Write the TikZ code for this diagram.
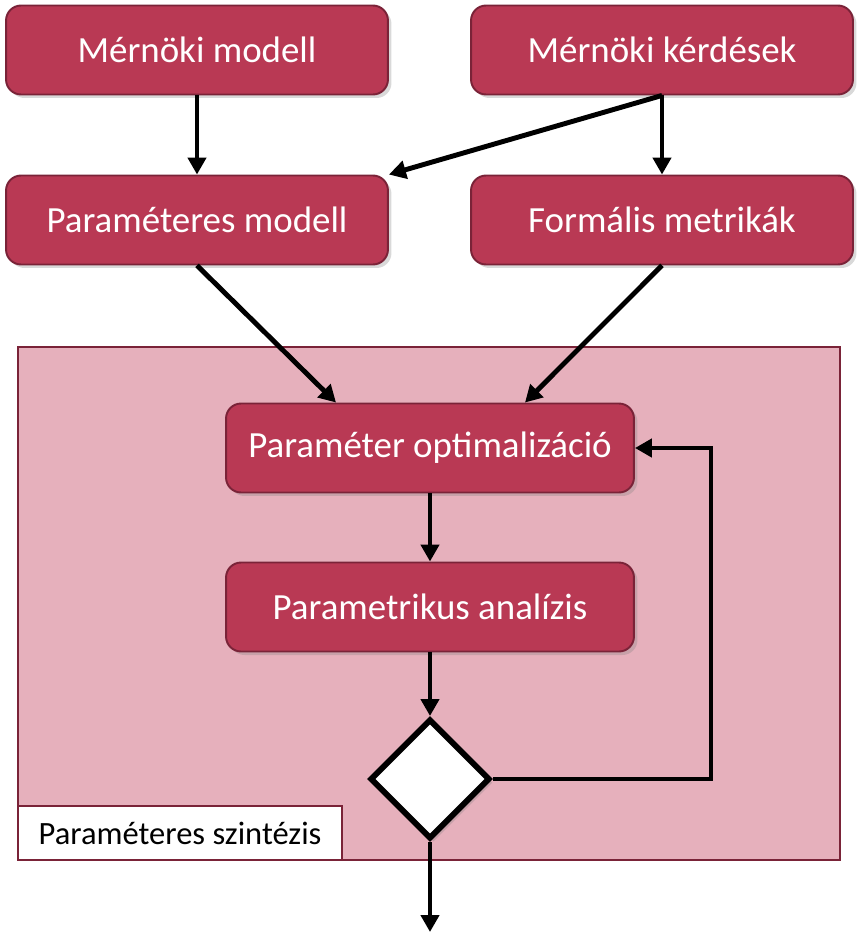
\documentclass[tikz,border=0pt]{standalone}
\usepackage{fontspec}
\setmainfont{Carlito}
\usepackage{tikz}
\usetikzlibrary{arrows.meta,shapes.geometric,shadows,positioning}

\definecolor{boxred}{RGB}{185,57,84}
\definecolor{boxedge}{RGB}{122,35,56}
\definecolor{regionpink}{RGB}{230,176,188}

\tikzset{
  stepbox/.style={draw=boxedge,line width=1.1pt,fill=boxred,rounded corners=0.3cm,
    minimum width=7.64cm,minimum height=1.78cm,text=white,font=\fontsize{21}{25}\selectfont,
    drop shadow={shadow xshift=0.07cm,shadow yshift=-0.07cm,opacity=0.3}},
  region/.style={draw=boxedge,line width=0.8pt,fill=regionpink,minimum width=16.44cm,minimum height=10.26cm},
  tagbox/.style={draw=boxedge,line width=0.8pt,fill=white,minimum width=6.48cm,minimum height=1.08cm,
    font=\fontsize{18.5}{22}\selectfont,inner sep=0pt},
  decision/.style={diamond,draw=black,line width=3.4pt,fill=white,minimum size=2.4cm,inner sep=0pt,
    drop shadow={shadow xshift=0.07cm,shadow yshift=-0.07cm,opacity=0.3}},
  flow/.style={line width=2.8pt,-{Triangle[length=0.34cm,width=0.36cm]}}
}

\begin{document}
\begin{tikzpicture}[x=0.02cm,y=-0.02cm]
  \useasboundingbox (0,0) rectangle (868,951);
  % outer frame
  \node[region] (synth) at (429,603.5) {};
  \node[tagbox,anchor=south west] (tag) at (synth.south west) {Paraméteres szintézis};
  % inputs
  \node[stepbox] (mm) at (197,50) {Mérnöki modell};
  \node[stepbox] (mk) at (662,50) {Mérnöki kérdések};
  \node[stepbox] (pm) at (197,220) {Paraméteres modell};
  \node[stepbox] (fm) at (662,220) {Formális metrikák};
  % loop
  \node[stepbox,minimum width=8.16cm] (opt) at (430,448) {Paraméter optimalizáció};
  \node[stepbox,minimum width=8.16cm] (ana) at (430,607) {Parametrikus analízis};
  \node[decision] (dec) at (430,779) {};
  \coordinate (out) at (430,932);

  \draw[flow] (mm) -- (pm);
  \draw[flow] (mk) -- (fm);
  \draw[flow] (mk.south) -- (pm.north east);
  \draw[flow] (pm.south) -- ([xshift=-1.88cm]opt.north);
  \draw[flow] (fm.south) -- ([xshift=1.9cm]opt.north);
  \draw[flow] (opt) -- (ana);
  \draw[flow] (ana) -- (dec);
  \draw[flow] (dec.east) -- ++(218,0) |- (opt.east);
  \draw[flow] (dec) -- (out);
\end{tikzpicture}
\end{document}
